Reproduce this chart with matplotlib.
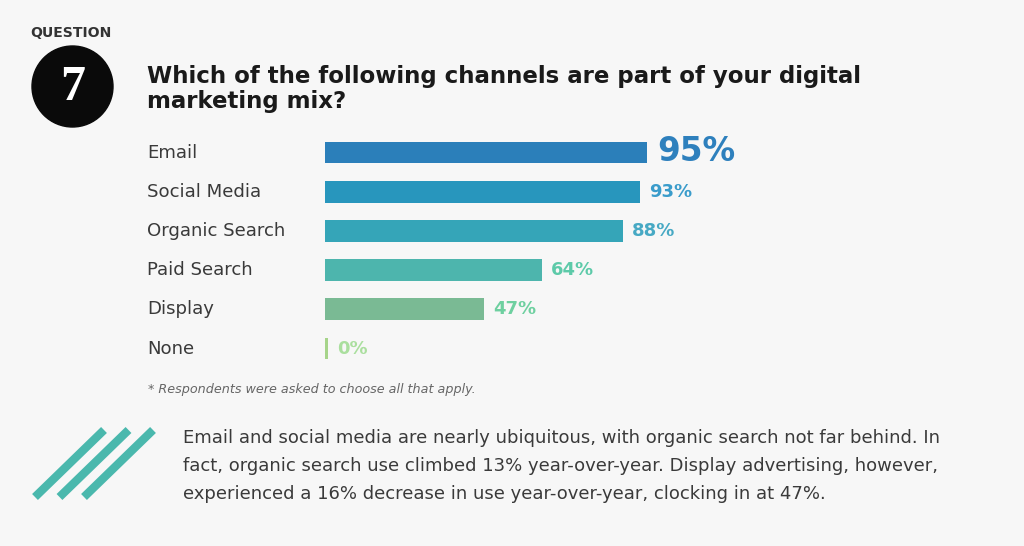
import matplotlib
matplotlib.use("Agg")
import matplotlib.pyplot as plt
from matplotlib.patches import Circle

categories = ["Email", "Social Media", "Organic Search", "Paid Search", "Display", "None"]
values = [95, 93, 88, 64, 47, 0.8]
value_labels = ["95%", "93%", "88%", "64%", "47%", "0%"]
bar_colors = ["#2b7fba", "#2896bd", "#35a5b8", "#4db5ad", "#7aba94", "#a6d48a"]
label_colors = ["#2e80bd", "#3a9ccb", "#47a9c4", "#5dcaa9", "#6ed0a0", "#aadf9e"]

title = "Which of the following channels are part of your digital\nmarketing mix?"
footnote = "* Respondents were asked to choose all that apply."
paragraph = [
    "Email and social media are nearly ubiquitous, with organic search not far behind. In",
    "fact, organic search use climbed 13% year-over-year. Display advertising, however,",
    "experienced a 16% decrease in use year-over-year, clocking in at 47%.",
]

BG = "#f7f7f7"
W, H = 1024, 546
fig = plt.figure(figsize=(W / 100, H / 100), dpi=100, facecolor=BG)

# background / decoration axes in pixel coordinates
bg = fig.add_axes([0, 0, 1, 1])
bg.set_xlim(0, W)
bg.set_ylim(H, 0)
bg.axis("off")
bg.set_facecolor(BG)

bg.text(30, 33, "QUESTION", fontsize=10.1, fontweight="bold", color="#333333",
        va="center", ha="left", family="DejaVu Sans")
bg.add_patch(Circle((72.5, 86.5), 40.5, color="#0a0a0a"))
bg.text(72.5, 88, "7", fontsize=36, color="white", ha="center", va="center",
        family="Liberation Serif", fontweight="bold")
bg.text(147, 89, title, fontsize=16.5, fontweight="bold", color="#1a1a1a",
        ha="left", va="center", linespacing=1.07, family="DejaVu Sans")

bg.text(148, 390, footnote, fontsize=9.2, style="italic", color="#666666",
        ha="left", va="center", family="DejaVu Sans")

for k in range(3):
    x0 = 35 + 24.5 * k
    bg.plot([x0, x0 + 69], [497, 430], color="#4ab8ad", lw=6.0, solid_capstyle="butt")

for j, line in enumerate(paragraph):
    bg.text(183, 438 + 28 * j, line, fontsize=13.0, color="#3a3a3a",
            ha="left", va="center", family="DejaVu Sans")

# bar chart axes
top_px, bot_px = 132.9, 368.1
ax = fig.add_axes([325 / W, 1 - bot_px / H, 339 / W, (bot_px - top_px) / H])
ax.set_facecolor("none")
ypos = list(range(len(categories)))
ax.barh(ypos, values, height=0.56, color=bar_colors)
ax.set_xlim(0, 100)
ax.set_ylim(len(categories) - 0.5, -0.5)
ax.axis("off")

for i, (v, lab, col) in enumerate(zip(values, value_labels, label_colors)):
    big = i == 0
    ax.annotate(lab, (v, i), xytext=(10 if big else 9, 1 if big else 0), textcoords="offset pixels",
                ha="left", va="center", color=col,
                fontsize=23.5 if big else 13, fontweight="bold" if not big else "semibold",
                family="DejaVu Sans")

for i, c in enumerate(categories):
    ax.annotate(c, (0, i), xytext=(147 - 325, 0), textcoords="offset pixels",
                ha="left", va="center", fontsize=13.1, color="#3a3a3a", family="DejaVu Sans")

fig.savefig("out.png", dpi=100, facecolor=BG)
